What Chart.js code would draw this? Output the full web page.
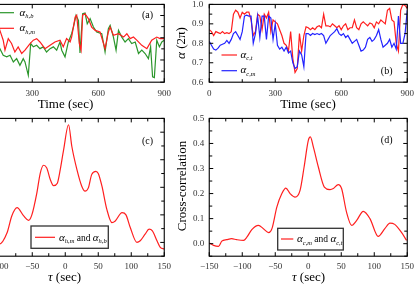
<!DOCTYPE html>
<html><head><meta charset="utf-8">
<script src="https://cdn.jsdelivr.net/npm/chart.js@4/dist/chart.umd.min.js"></script>
<style>
html,body{margin:0;padding:0;background:#fff;}
body{width:415px;height:286px;overflow:hidden;position:relative;}
canvas{position:absolute;}
</style>
</head><body>
<script>
// ---------- DATA ----------
// Panel (a): alpha_h,m (red) and alpha_h,b (green) vs time (sec)
const timeAm = [0,20,40,60,80,100,120,140,153,168,176,191,206,221,236,252,267,290,305,320,335,358,381,403,426,441,456,472,479,495,502,514,522,529,540,555,570,586,608,631,646,654,669,692,715,730,745,760,775,798,821,843,866,881,900];
const alphaHm = [0.82,0.80,0.83,0.79,0.81,0.80,0.82,0.80,0.833,0.789,0.744,0.796,0.774,0.736,0.759,0.729,0.744,0.774,0.789,0.796,0.781,0.751,0.766,0.781,0.789,0.759,0.796,0.781,0.803,0.893,0.901,0.774,0.744,0.901,0.908,0.886,0.848,0.833,0.826,0.751,0.826,0.848,0.811,0.818,0.803,0.818,0.796,0.803,0.789,0.766,0.751,0.789,0.803,0.796,0.796];
const timeAb = [0,20,40,60,80,100,120,140,153,168,184,199,214,229,244,259,267,282,293,305,320,335,350,365,381,396,411,426,434,449,464,479,487,499,510,517,529,540,550,563,578,593,616,631,646,654,669,681,692,707,722,737,752,768,783,798,813,828,838,847,855,866,878,889,900];
const alphaHb = [0.74,0.72,0.75,0.71,0.73,0.74,0.72,0.73,0.751,0.721,0.714,0.721,0.691,0.706,0.676,0.706,0.691,0.631,0.774,0.759,0.766,0.751,0.759,0.736,0.751,0.759,0.744,0.781,0.744,0.714,0.781,0.818,0.848,0.901,0.878,0.732,0.908,0.911,0.863,0.886,0.848,0.826,0.818,0.736,0.841,0.856,0.803,0.744,0.833,0.803,0.781,0.796,0.774,0.781,0.729,0.744,0.729,0.706,0.759,0.624,0.621,0.789,0.759,0.781,0.789];

// Panel (b): alpha_c,t (red) and alpha_c,m (blue) vs time (sec)
const timeB = [0,10,20,30,40,50,60,70,80,90,100,110,120,130,140,150,160,170,180,190,200,210,220,230,240,250,260,270,280,290,300,310,320,330,340,350,360,370,380,390,400,410,420,430,440,450,460,470,480,490,500,510,520,530,540,550,560,570,580,590,600,610,620,630,640,650,660,670,680,690,700,710,720,730,740,750,760,770,780,790,800,810,820,830,840,850,860,870,880,890,900];
const alphaCt = [0.87,0.86,0.84,0.86,0.855,0.85,0.86,0.85,0.855,0.85,
 0.86,0.95,0.97,0.96,0.93,0.96,0.95,0.96,0.96,0.92,
 0.84,0.86,0.95,0.94,0.87,0.95,0.93,0.96,0.86,0.92,
 0.91,0.90,0.87,0.84,0.80,0.79,0.76,0.86,0.72,0.65,
 0.67,0.85,0.76,0.84,0.885,0.88,0.87,0.88,0.87,0.885,
 0.89,0.88,0.95,0.89,0.89,0.885,0.90,0.89,0.88,0.89,
 0.87,0.89,0.90,0.87,0.88,0.88,0.92,0.88,0.87,0.90,
 0.91,0.90,0.89,0.905,0.90,0.88,0.91,0.90,0.92,0.91,
 0.90,0.97,0.98,0.92,0.91,0.80,0.76,0.97,1.0,0.995,
 0.98];
const alphaCm = [0.81,0.79,0.77,0.765,0.775,0.79,0.795,0.80,0.815,0.80,
 0.82,0.85,0.86,0.84,0.82,0.86,0.94,0.945,0.94,0.94,
 0.80,0.85,0.94,0.83,0.94,0.94,0.82,0.94,0.93,0.82,
 0.90,0.79,0.77,0.78,0.76,0.78,0.75,0.76,0.70,0.67,
 0.68,0.76,0.74,0.68,0.85,0.85,0.84,0.85,0.845,0.85,
 0.845,0.85,0.84,0.80,0.82,0.84,0.85,0.86,0.875,0.85,
 0.84,0.85,0.83,0.84,0.82,0.80,0.81,0.82,0.79,0.76,
 0.765,0.78,0.82,0.83,0.81,0.82,0.84,0.87,0.82,0.78,
 0.79,0.80,0.82,0.78,0.80,0.77,0.94,0.80,0.80,0.85,
 0.97];

// Panel (c): cross-correlation of alpha_h,m and alpha_h,b vs lag tau (sec)
const tauC = [-150,-140,-130,-120,-110,-100,-88,-81,-73,-63,-55.6,-50.6,-43,-38,-33,-28,-22.7,-17.7,-12,-7.6,-2.5,5,10,17.7,25,30,35,40,46.5,50,55.6,63,70.7,75.8,86,92,98.5,108.6,113.6,121,127,132,139,144,150];
const ccH = [0.02,0.01,0.03,0.02,0.01,-0.006,0.036,0.096,0.126,0.096,0.08,0.10,0.18,0.25,0.28,0.27,0.228,0.206,0.215,0.264,0.336,0.427,0.348,0.264,0.204,0.186,0.198,0.246,0.258,0.25,0.204,0.12,0.072,0.078,0.108,0.10,0.054,0.0,0.006,0.03,0.048,0.042,0.006,-0.018,-0.024];

// Panel (d): cross-correlation of alpha_c,m and alpha_c,t vs lag tau (sec)
const tauD = [-150,-143.5,-136,-131,-123.5,-116,-108.5,-98,-93,-85.5,-75.5,-68,-60,-55,-47.6,-40,-34,-27.5,-20,-12.4,-6.3,0.2,3.2,7.7,15.3,24.4,33,38,45.5,50.5,58,65.8,73.4,83.4,93.5,106,116,123.8,131,141,149];
const ccC = [0.003,-0.007,-0.011,0.01,0.016,0.02,0.016,0.013,0.026,0.056,0.073,0.06,0.044,0.06,0.146,0.2,0.222,0.2,0.186,0.213,0.306,0.413,0.426,0.386,0.306,0.226,0.216,0.22,0.236,0.22,0.126,0.073,0.093,0.129,0.1,0.029,0.06,0.082,0.077,0.046,0.013];

// Tick values
const timeTickLabels = [0,300,600,900];
const timeMinorTicks = [0,150,300,450,600,750,900];
const alphaATickLabels = [0.6,0.7,0.8,0.9];
const alphaAMinorTicks = [0.6,0.65,0.7,0.75,0.8,0.85,0.9,0.95];
const alphaBTickLabels = [0.6,0.7,0.8,0.9,1.0];
const alphaBMinorTicks = [0.6,0.65,0.7,0.75,0.8,0.85,0.9,0.95,1.0];
const tauTickLabels = [-150,-100,-50,0,50,100,150];
const tauMinorTicks = [-150,-125,-100,-75,-50,-25,0,25,50,75,100,125,150];
const ccCTickLabels = [0,0.1,0.2,0.3,0.4];
const ccCMinorTicks = [-0.05,0,0.05,0.1,0.15,0.2,0.25,0.3,0.35,0.4,0.45];
const ccDTickLabels = [0,0.1,0.2,0.3,0.4,0.5];
const ccDMinorTicks = [-0.05,0,0.05,0.1,0.15,0.2,0.25,0.3,0.35,0.4,0.45,0.5];

// ---------- STYLE / HELPERS ----------
const SERIF = "'Liberation Serif','Times New Roman',serif";
const RED = '#ff1f1f', GREEN = '#2b962b', BLUE = '#2323ff';

function pts(xs, ys){ return xs.map((x,i)=>({x:x, y:ys[i]})); }
function fnt(s){ return (s.italic?'italic ':'') + s.size + 'px ' + SERIF; }
function rich(ctx, x, y, segs, align){
  let w = 0;
  segs.forEach(s=>{ ctx.font = fnt(s); s.w = ctx.measureText(s.t).width; w += s.w; });
  let cx = align === 'center' ? x - w/2 : x;
  segs.forEach(s=>{ ctx.font = fnt(s); ctx.fillText(s.t, cx, y + (s.dy||0)); cx += s.w; });
}
function alphaSub(sub, size){
  return [{t:'\u03b1', size:size||11, italic:true},{t:sub, size:6.5, italic:true, dy:2.6}];
}
function near(a,b){ return Math.abs(a-b) < 1e-6; }

function boxPlugin(cfg){
  return {
    id:'box',
    afterDatasetsDraw(chart){
      const ctx = chart.ctx, a = chart.chartArea;
      const xs = chart.scales.x, ys = chart.scales.y;
      ctx.save();
      ctx.strokeStyle = '#000'; ctx.lineWidth = 1;
      ctx.beginPath();
      cfg.xMinor.forEach(v=>{
        const p = xs.getPixelForValue(v);
        const L = cfg.xMajor.some(m=>near(m,v)) ? 4 : 3;
        ctx.moveTo(p, a.bottom); ctx.lineTo(p, a.bottom - L);
        ctx.moveTo(p, a.top); ctx.lineTo(p, a.top + L);
      });
      cfg.yMinor.forEach(v=>{
        const p = ys.getPixelForValue(v);
        const L = cfg.yMajor.some(m=>near(m,v)) ? 4 : 3;
        ctx.moveTo(a.left, p); ctx.lineTo(a.left + L, p);
        ctx.moveTo(a.right, p); ctx.lineTo(a.right - L, p);
      });
      ctx.stroke();
      ctx.lineWidth = 1.1;
      ctx.strokeRect(a.left, a.top, a.right - a.left, a.bottom - a.top);
      if (chart.$off && cfg.deco){
        ctx.translate(-chart.$off.x, -chart.$off.y);
        ctx.fillStyle = '#000';
        cfg.deco(ctx);
      }
      ctx.restore();
    }
  };
}

function axis(min, max, labels, fmt, pad){
  return {
    type:'linear', min:min, max:max,
    afterBuildTicks: s => { s.ticks = labels.map(v=>({value:v})); },
    grid:{display:false, drawTicks:false}, border:{display:false},
    ticks:{font:{family:SERIF, size:9}, color:'#333', padding:pad, maxRotation:0, autoSkip:false, callback:fmt}
  };
}
const fmtInt = v => (v < 0 ? '\u2212' + Math.abs(v) : String(v));
const fmt1 = v => (Math.abs(v) < 1e-9 ? '0.0' : v.toFixed(1));

function makeChart(datasets, xAx, yAx, cfg, area, curve){
  let W = 300, H = 200, chart = null, cv = null, off = null;
  for (let i = 0; i < 4; i++){
    if (chart){ chart.destroy(); cv.remove(); }
    cv = document.createElement('canvas');
    cv.width = W; cv.height = H;
    document.body.appendChild(cv);
    chart = new Chart(cv, {
      type:'line',
      data:{datasets: datasets.map(d=>({
        data:d.data, borderColor:d.color, borderWidth:1.2, pointRadius:0, fill:false,
        tension: curve ? 0.4 : 0, cubicInterpolationMode: curve ? 'monotone' : 'default'
      }))},
      options:{
        responsive:false, animation:false, events:[],
        layout:{padding:{left:24, right:4, top:4, bottom:26}},
        plugins:{legend:{display:false}, tooltip:{enabled:false}, title:{display:false}},
        scales:{x:xAx, y:yAx}
      },
      plugins:[boxPlugin(cfg)]
    });
    const ca = chart.chartArea;
    const mL = ca.left, mT = ca.top, mR = chart.width - ca.right, mB = chart.height - ca.bottom;
    const nW = Math.round(area.r - area.l + mL + mR), nH = Math.round(area.b - area.t + mT + mB);
    off = {x: Math.round(area.l - ca.left), y: Math.round(area.t - ca.top)};
    if (nW === W && nH === H) break;
    W = nW; H = nH;
  }
  cv.style.left = off.x + 'px'; cv.style.top = off.y + 'px';
  chart.$off = off;
  chart.draw();
  return chart;
}

function legendLine(ctx, x1, x2, y, color){
  ctx.save(); ctx.strokeStyle = color; ctx.lineWidth = 1.2;
  ctx.beginPath(); ctx.moveTo(x1, y); ctx.lineTo(x2, y); ctx.stroke(); ctx.restore();
}
function centerText(ctx, t, x, y, size){
  ctx.font = size + 'px ' + SERIF; ctx.textAlign = 'center'; ctx.textBaseline = 'middle';
  ctx.fillText(t, x, y); ctx.textAlign = 'left'; ctx.textBaseline = 'alphabetic';
}

// ---------- PANEL (a) ----------
makeChart(
  [{data:pts(timeAm, alphaHm), color:RED}, {data:pts(timeAb, alphaHb), color:GREEN}],
  axis(0, 900, timeTickLabels, fmtInt, 6),
  axis(0.6, 0.95, alphaATickLabels, fmt1, 5),
  {xMajor:timeTickLabels, xMinor:timeMinorTicks, yMajor:alphaATickLabels, yMinor:alphaAMinorTicks,
   deco: ctx => {
     ctx.textBaseline = 'middle'; ctx.fillStyle = '#000';
     rich(ctx, 65.5, 105, [{t:'Time (sec)', size:13}], 'center');
     ctx.textBaseline = 'alphabetic';
     centerText(ctx, '(a)', 147.5, 15, 10);
     legendLine(ctx, -2, 14, 12.7, GREEN);
     rich(ctx, 19.5, 15.5, alphaSub('h,b'));
     legendLine(ctx, -2, 14, 28.3, RED);
     rich(ctx, 19.5, 31, alphaSub('h,m'));
   }},
  {l:-33.5, t:4, r:164.5, b:82}, false);

// ---------- PANEL (b) ----------
makeChart(
  [{data:pts(timeB, alphaCm), color:BLUE}, {data:pts(timeB, alphaCt), color:RED}],
  axis(0, 900, timeTickLabels, fmtInt, 6),
  axis(0.6, 1.0, alphaBTickLabels, fmt1, 6),
  {xMajor:timeTickLabels, xMinor:timeMinorTicks, yMajor:alphaBTickLabels, yMinor:alphaBMinorTicks,
   deco: ctx => {
     ctx.textBaseline = 'middle';
     rich(ctx, 308, 105, [{t:'Time (sec)', size:13}], 'center');
     ctx.save(); ctx.translate(182, 43); ctx.rotate(-Math.PI/2);
     rich(ctx, 0, 0, [{t:'\u03b1', size:13, italic:true},{t:' (2\u03c0)', size:13}], 'center');
     ctx.restore();
     ctx.textBaseline = 'alphabetic';
     centerText(ctx, '(b)', 386.7, 71, 10);
     legendLine(ctx, 221.5, 237, 55, RED);
     rich(ctx, 240.5, 57.5, alphaSub('c,t'));
     legendLine(ctx, 221.5, 237, 70.7, BLUE);
     rich(ctx, 240.5, 73, alphaSub('c,m'));
   }},
  {l:209, t:4, r:407, b:82.3}, false);

// ---------- PANEL (c) ----------
makeChart(
  [{data:pts(tauC, ccH), color:RED}],
  axis(-150, 150, tauTickLabels, fmtInt, 5),
  axis(-0.05, 0.45, ccCTickLabels, fmt1, 5),
  {xMajor:tauTickLabels, xMinor:tauMinorTicks, yMajor:ccCTickLabels, yMinor:ccCMinorTicks,
   deco: ctx => {
     ctx.textBaseline = 'middle';
     rich(ctx, 64.5, 277.5, [{t:'\u03c4', size:13, italic:true},{t:' (sec)', size:13}], 'center');
     ctx.textBaseline = 'alphabetic';
     centerText(ctx, '(c)', 147.5, 141, 10);
     ctx.save(); ctx.fillStyle = '#fff'; ctx.fillRect(31, 226, 77.3, 22.3);
     ctx.strokeStyle = '#333'; ctx.lineWidth = 1.3; ctx.strokeRect(31, 226, 77.3, 22.3); ctx.restore();
     legendLine(ctx, 35, 55, 237.3, RED);
     rich(ctx, 59, 240.5, alphaSub('h,m').concat([{t:' and ', size:9.5}], alphaSub('h,b')));
   }},
  {l:-33.5, t:118.5, r:164.5, b:256.7}, true);

// ---------- PANEL (d) ----------
makeChart(
  [{data:pts(tauD, ccC), color:RED}],
  axis(-150, 150, tauTickLabels, fmtInt, 5),
  axis(-0.05, 0.5, ccDTickLabels, fmt1, 5),
  {xMajor:tauTickLabels, xMinor:tauMinorTicks, yMajor:ccDTickLabels, yMinor:ccDMinorTicks,
   deco: ctx => {
     ctx.textBaseline = 'middle';
     rich(ctx, 308.5, 277.5, [{t:'\u03c4', size:13, italic:true},{t:' (sec)', size:13}], 'center');
     ctx.save(); ctx.translate(182.5, 186); ctx.rotate(-Math.PI/2);
     rich(ctx, 0, 0, [{t:'Cross-correlation', size:13}], 'center');
     ctx.restore();
     ctx.textBaseline = 'alphabetic';
     centerText(ctx, '(d)', 386.7, 140, 10);
     ctx.save(); ctx.fillStyle = '#fff'; ctx.fillRect(277.7, 228.3, 65.6, 21.7);
     ctx.strokeStyle = '#333'; ctx.lineWidth = 1.3; ctx.strokeRect(277.7, 228.3, 65.6, 21.7); ctx.restore();
     legendLine(ctx, 281, 293.3, 239, RED);
     rich(ctx, 297, 242, alphaSub('c,m').concat([{t:' and ', size:9.5}], alphaSub('c,t')));
   }},
  {l:209, t:118.5, r:407, b:256}, true);
</script>
</body></html>
